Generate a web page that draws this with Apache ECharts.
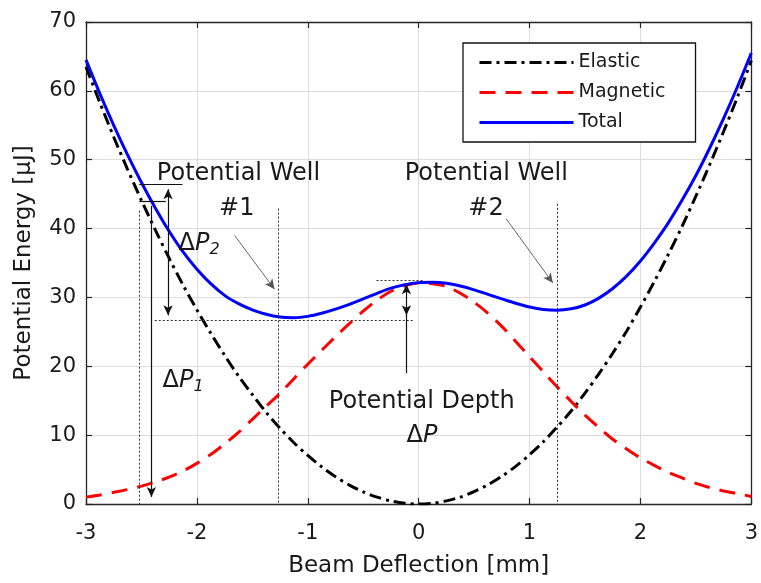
<!DOCTYPE html>
<html><head><meta charset="utf-8">
<script src="https://cdn.jsdelivr.net/npm/echarts@6/dist/echarts.min.js"></script>
<style>html,body{margin:0;padding:0;background:#fff}#c{width:761px;height:583px}</style>
</head><body><div id="c"></div>
<script>
// ---- data ----
const deflection = [-3,-2.875,-2.75,-2.625,-2.5,-2.375,-2.25,-2.125,-2,-1.875,-1.75,-1.625,-1.5,-1.375,-1.25,-1.125,-1,-0.875,-0.75,-0.625,-0.5,-0.375,-0.25,-0.125,
  0,0.125,0.25,0.375,0.5,0.625,0.75,0.875,1,1.125,1.25,1.375,1.5,1.625,1.75,1.875,2,2.125,2.25,2.375,2.5,2.625,2.75,2.875,3];
const elastic  = [63.5,58.3,53.3,48.6,44.1,39.8,35.7,31.8,28.2,24.8,21.6,18.6,15.9,13.3,11.0,8.9,7.05,5.4,3.97,2.75,1.76,0.99,0.44,0.11,
  0,0.11,0.45,1.0,1.79,2.79,4.02,5.47,7.15,9.05,11.2,13.5,16.1,18.9,21.9,25.1,28.6,32.3,36.2,40.3,44.7,49.3,54.1,59.1,64.4];
const magnetic = [1.0,1.3,1.7,2.1,2.6,3.2,3.9,4.8,5.9,7.2,8.7,10.4,12.3,14.2,16.1,18.2,20.3,22.3,24.3,26.2,28.0,29.6,30.9,31.7,
  32.1,32.0,31.6,30.6,29.3,27.7,25.8,23.6,21.4,19.2,17.0,14.9,12.9,11.1,9.4,8.0,6.7,5.6,4.6,3.8,3.0,2.4,1.9,1.5,1.1];
const total    = [64.5,59.6,55.0,50.7,46.7,43.0,39.6,36.6,34.1,32.0,30.3,29.1,28.2,27.55,27.15,27.05,27.25,27.7,28.3,29.0,29.8,30.6,31.35,31.85,
  32.15,32.2,32.05,31.65,31.1,30.45,29.8,29.15,28.6,28.25,28.15,28.35,28.9,29.9,31.3,33.1,35.3,37.9,40.8,44.1,47.7,51.7,56.0,60.6,65.5];
const seriesNames = ['Elastic','Magnetic','Total'];
const xRange = [-3, 3], xStep = 1;
const yRange = [0, 70], yStep = 10;

// annotation geometry (data coordinates)
const dottedGuides = [
  [[-2.52,42.6],[-2.52,0]],
  [[-1.27,42.9],[-1.27,0]],
  [[1.25,43.6],[1.25,0]],
  [[-2.38,26.7],[-0.04,26.7]],
  [[-0.38,32.5],[0.04,32.5]]
];
const levelLines = [
  [[-2.52,46.5],[-2.13,46.5]],
  [[-2.52,43.9],[-2.28,43.9]],
  [[-0.11,27.5],[-0.11,19.0]]
];
const arrowLines = [
  [[-2.41,43.3],[-2.41,1.0]],
  [[-2.26,36.0],[-2.26,45.7]],
  [[-2.26,36.0],[-2.26,27.4]],
  [[-0.11,29.6],[-0.11,31.9]],
  [[-0.11,29.6],[-0.11,27.4]]
];
const pointerLines = [
  [[-1.66,39.0],[-1.30,31.2]],
  [[0.79,41.4],[1.21,32.1]]
];
const noteTexts = ['Potential Well','#1','Potential Well','#2','ΔP2','ΔP1','Potential Depth','ΔP'];
const noteX = [-1.625,-1.64,0.61,0.607,-1.98,-2.124,0.028,0.03];
const noteY = [47.9,42.9,47.9,42.9,37.8,17.9,14.8,9.9];

// ---- chart ----
const FONT = 'DejaVu Sans';
const TXT = '#1a1a1a';
const pair = (xs, ys) => xs.map((x,i)=>[x, ys[i]]);
const seg = (s, style, fromSym, toSym) => [
  {coord: s[0], symbol: fromSym || 'none', symbolSize: [7,10], lineStyle: style},
  {coord: s[1], symbol: toSym || 'none', symbolSize: [7,10], lineStyle: style}
];
const dotted = {color:'#333', width:1, type:[2,2]};
const solid = {color:'#111', width:1.2, type:'solid'};
const thin = {color:'#555', width:0.9, type:'solid'};
const markData = []
  .concat(dottedGuides.map(s=>seg(s,dotted)))
  .concat(levelLines.map(s=>seg(s,solid)))
  .concat(arrowLines.map(s=>seg(s,solid,'none','arrow')))
  .concat(pointerLines.map(s=>seg(s,thin,'none','arrow')));

function richText(t){
  const m = t.match(/^Δ(P)(\d?)$/);
  if(!m) return t;
  return '{d|Δ}{p|P}' + (m[2] ? '{s|' + m[2] + '}' : '');
}
const notes = noteTexts.map((t,i)=>({value:[noteX[i], noteY[i]], label:{formatter: richText(t)}}));

const chart = echarts.init(document.getElementById('c'), null, {renderer:'canvas'});
const axisCommon = {
  axisLine:{show:true, onZero:false, lineStyle:{color:'#262626', width:1.3}},
  axisTick:{show:true, inside:true, length:6, lineStyle:{color:'#262626', width:1.2}},
};
chart.setOption({
  animation:false,
  backgroundColor:'#fff',
  grid:{left:86, right:7, top:22, bottom:76, containLabel:false},
  xAxis:[
    Object.assign({type:'value', min:xRange[0], max:xRange[1], interval:xStep, position:'bottom',
      name:'Beam Deflection [mm]', nameLocation:'middle', nameGap:51,
      nameTextStyle:{fontFamily:FONT, fontSize:23, color:TXT},
      axisLabel:{margin:19, fontFamily:FONT, fontSize:21, color:TXT},
      splitLine:{show:true, lineStyle:{color:'#dcdcdc', width:1}}}, axisCommon),
    Object.assign({type:'value', min:xRange[0], max:xRange[1], interval:xStep, position:'top',
      axisLabel:{show:false}, splitLine:{show:false}}, axisCommon)
  ],
  yAxis:[
    Object.assign({type:'value', min:yRange[0], max:yRange[1], interval:yStep, position:'left',
      name:'Potential Energy [μJ]', nameLocation:'middle', nameGap:50,
      nameTextStyle:{fontFamily:FONT, fontSize:23, color:TXT},
      axisLabel:{margin:10, fontFamily:FONT, fontSize:21, color:TXT},
      splitLine:{show:true, lineStyle:{color:'#dcdcdc', width:1}}}, axisCommon),
    Object.assign({type:'value', min:yRange[0], max:yRange[1], interval:yStep, position:'right',
      axisLabel:{show:false}, splitLine:{show:false}}, axisCommon)
  ],
  legend:{
    data:seriesNames, orient:'vertical', left:463, top:43,
    itemWidth:94, itemHeight:14, itemGap:11, padding:[10,30,10,15],
    borderColor:'#111', borderWidth:1.3, backgroundColor:'#fff',
    itemStyle:{color:'rgba(0,0,0,0)', borderWidth:0, opacity:0},
    lineStyle:{width:3},
    textStyle:{fontFamily:FONT, fontSize:19, color:TXT}, z:10
  },
  series:[
    {name:seriesNames[0], type:'line', data:pair(deflection, elastic), smooth:0.3, symbol:'none',
      lineStyle:{color:'#000', width:3, type:[12,5,3,5]}, itemStyle:{color:'#000'}, z:3},
    {name:seriesNames[1], type:'line', data:pair(deflection, magnetic), smooth:0.3, symbol:'none',
      lineStyle:{color:'#ff0000', width:3, type:[16,10]}, itemStyle:{color:'#ff0000'}, z:3},
    {name:seriesNames[2], type:'line', data:pair(deflection, total), smooth:0.3, symbol:'none',
      lineStyle:{color:'#0000ff', width:3, type:'solid'}, itemStyle:{color:'#0000ff'}, z:4},
    {name:'notes', type:'scatter', data:notes, symbolSize:0, silent:true, z:5,
      itemStyle:{color:'rgba(0,0,0,0)', opacity:1},
      label:{show:true, position:'inside', fontFamily:FONT, fontSize:24, color:TXT, opacity:1,
        textBorderWidth:0,
        rich:{
          d:{fontFamily:FONT, fontSize:24, color:TXT},
          p:{fontFamily:FONT, fontSize:24, fontStyle:'italic', color:TXT},
          s:{fontFamily:FONT, fontSize:16, fontStyle:'italic', color:TXT, padding:[12,0,0,0]}
        }},
      markLine:{silent:true, animation:false, symbol:['none','none'], label:{show:false},
        emphasis:{disabled:true}, data:markData}
    }
  ]
});
</script></body></html>
